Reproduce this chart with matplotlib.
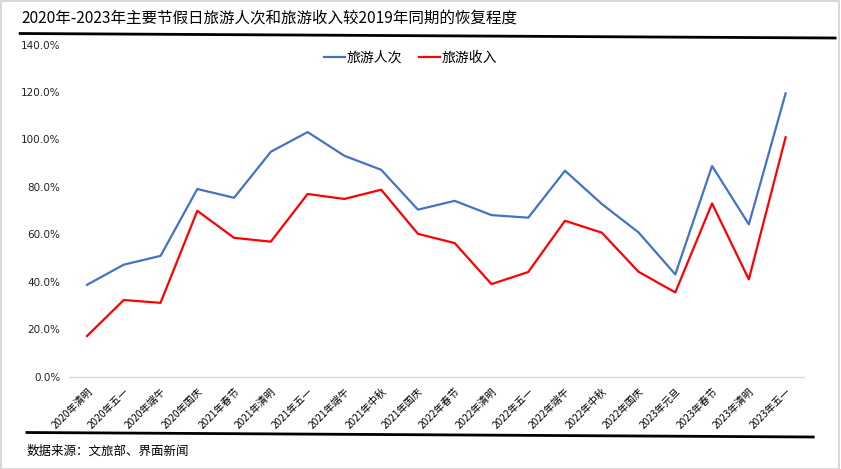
import matplotlib
matplotlib.use('Agg')
from matplotlib import pyplot as plt
from matplotlib.patches import Rectangle
from matplotlib.lines import Line2D
import numpy as np

plt.rcParams['font.family'] = ['Noto Sans CJK SC', 'DejaVu Sans']

# holidays
categories = ['2020年清明', '2020年五一', '2020年端午', '2020年国庆', '2021年春节',
              '2021年清明', '2021年五一', '2021年端午', '2021年中秋', '2021年国庆',
              '2022年春节', '2022年清明', '2022年五一', '2022年端午', '2022年中秋',
              '2022年国庆', '2023年元旦', '2023年春节', '2023年清明', '2023年五一']
# recovery vs 2019, percent
visitors = [38.7, 47.2, 50.9, 79.1, 75.4, 94.8, 103.1, 93.1, 87.2, 70.4,
            74.1, 68.1, 67.0, 86.8, 72.8, 60.8, 43.1, 88.8, 64.2, 119.4]
revenue  = [17.1, 32.3, 31.1, 69.9, 58.5, 56.9, 77.0, 74.9, 78.8, 60.2,
            56.3, 39.0, 44.1, 65.7, 60.7, 44.2, 35.5, 73.0, 41.0, 100.9]
yticks = [0, 20, 40, 60, 80, 100, 120, 140]

fig = plt.figure(figsize=(8.41, 4.69), dpi=100)
ax = fig.add_axes([0.0816, 0.197, 0.8744, 0.708])

x = np.arange(len(categories))
ax.plot(x, visitors, color='#4472C4', lw=1.6, label='旅游人次')
ax.plot(x, revenue, color='#FF0000', lw=1.6, label='旅游收入')

ax.set_xlim(-0.5, len(categories) - 0.5)
ax.set_ylim(0, 140)
ax.set_yticks(yticks)
ax.set_yticklabels(['%.1f%%' % v for v in yticks], fontsize=7.5, family='DejaVu Sans', color='#222222')
ax.set_xticks(x)
ax.set_xticklabels(categories, rotation=45, ha='right', va='top', rotation_mode='anchor', fontsize=7.3)
ax.tick_params(axis='both', length=0, pad=6)
ax.tick_params(axis='x', pad=7)
for s in ['top', 'right', 'left']:
    ax.spines[s].set_visible(False)
ax.spines['bottom'].set_color('#d9d9d9')
ax.spines['bottom'].set_linewidth(1)

ax.legend(loc='upper center', bbox_to_anchor=(0.465, 1.02), ncol=2, frameon=False,
          fontsize=10, handlelength=1.5, handletextpad=0.15, columnspacing=1.2)

# title, rules and source
fig.text(0.026, 0.96, '2020年-2023年主要节假日旅游人次和旅游收入较2019年同期的恢复程度',
         fontsize=11.2, fontweight='medium', va='center', ha='left')
fig.add_artist(Line2D([0.024, 0.993], [1 - 33.5 / 469, 1 - 38 / 469], color='black', lw=2))
fig.add_artist(Line2D([0.032, 0.967], [1 - 432.5 / 469, 1 - 437 / 469], color='black', lw=2))
fig.text(0.032, 1 - 451 / 469, '数据来源：文旅部、界面新闻', fontsize=9, va='center', ha='left')
fig.add_artist(Rectangle((0.001, 0.001), 0.997, 0.996, transform=fig.transFigure,
                         fill=False, edgecolor='#d0d0d0', lw=1.2))

plt.savefig('out.png', dpi=100)
